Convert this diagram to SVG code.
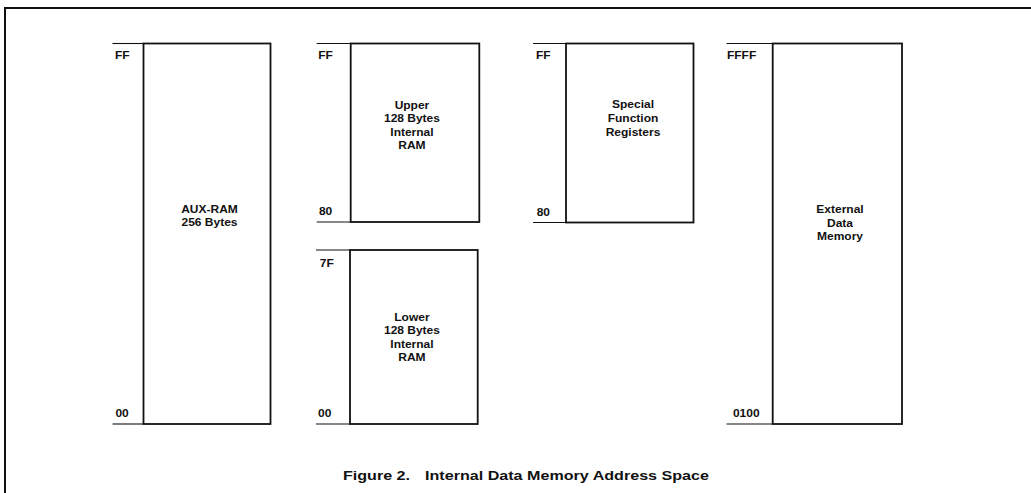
<svg xmlns="http://www.w3.org/2000/svg" width="1031" height="493" viewBox="0 0 1031 493">
<style>
  .box { fill: #ffffff; stroke: #111111; stroke-width: 1.8; }
  .tick { stroke: #111111; stroke-width: 1.1; fill: none; }
  .frame { stroke: #111111; stroke-width: 2; fill: none; }
  .t { font-family: "Liberation Sans", Arial, sans-serif; font-weight: bold; font-size: 10px; fill: #111111; }
  .c { text-anchor: middle; }
  .cap { font-family: "Liberation Sans", Arial, sans-serif; font-weight: bold; font-size: 13.2px; fill: #111111; }
</style>
<rect x="0" y="0" width="1031" height="493" fill="#ffffff"/>
<g id="frame">
  <line class="frame" x1="4" y1="8" x2="1031" y2="8"/>
  <line class="frame" x1="5" y1="7" x2="5" y2="493"/>
</g>
<g id="connectors"></g>
<g id="aux-ram">
  <line class="tick" x1="112.5" y1="43.5" x2="143.5" y2="43.5"/>
  <line class="tick" x1="112.5" y1="424" x2="143.5" y2="424"/>
  <rect class="box" x="143.5" y="43.5" width="127" height="380.5"/>
  <g transform="scale(1.2,1)">
    <text class="t" x="95.8" y="59.5">FF</text>
    <text class="t" x="96.2" y="416.7">00</text>
    <text class="t c" x="174.6" y="213.3">AUX-RAM</text>
    <text class="t c" x="174.6" y="226.3">256 Bytes</text>
  </g>
</g>
<g id="upper-ram">
  <line class="tick" x1="316.7" y1="43.5" x2="350.7" y2="43.5"/>
  <line class="tick" x1="316.7" y1="222" x2="350.7" y2="222"/>
  <rect class="box" x="350.7" y="43.5" width="128.6" height="178.5"/>
  <g transform="scale(1.2,1)">
    <text class="t" x="265.2" y="59.5">FF</text>
    <text class="t" x="265.8" y="215.5">80</text>
    <text class="t c" x="343.3" y="109">Upper</text>
    <text class="t c" x="343.3" y="122.3">128 Bytes</text>
    <text class="t c" x="343.3" y="135.8">Internal</text>
    <text class="t c" x="343.3" y="149.3">RAM</text>
  </g>
</g>
<g id="lower-ram">
  <line class="tick" x1="316" y1="250" x2="350" y2="250"/>
  <line class="tick" x1="316" y1="424" x2="350" y2="424"/>
  <rect class="box" x="350" y="250" width="127.7" height="174"/>
  <g transform="scale(1.2,1)">
    <text class="t" x="266.5" y="266.7">7F</text>
    <text class="t" x="265" y="416.7">00</text>
    <text class="t c" x="343.3" y="321">Lower</text>
    <text class="t c" x="343.3" y="334.3">128 Bytes</text>
    <text class="t c" x="343.3" y="347.7">Internal</text>
    <text class="t c" x="343.3" y="361">RAM</text>
  </g>
</g>
<g id="sfr">
  <line class="tick" x1="533" y1="43.5" x2="566" y2="43.5"/>
  <line class="tick" x1="533" y1="222.5" x2="566" y2="222.5"/>
  <rect class="box" x="566" y="43.5" width="127.5" height="179"/>
  <g transform="scale(1.2,1)">
    <text class="t" x="446.7" y="59.5">FF</text>
    <text class="t" x="447.2" y="216.5">80</text>
    <text class="t c" x="527.5" y="108.3">Special</text>
    <text class="t c" x="527.5" y="122.3">Function</text>
    <text class="t c" x="527.5" y="136">Registers</text>
  </g>
</g>
<g id="external-data-memory">
  <line class="tick" x1="726.5" y1="43.5" x2="772.7" y2="43.5"/>
  <line class="tick" x1="726.5" y1="424" x2="772.7" y2="424"/>
  <rect class="box" x="772.7" y="43.5" width="129.3" height="380.5"/>
  <g transform="scale(1.2,1)">
    <text class="t" x="605.8" y="59.5">FFFF</text>
    <text class="t" x="610.8" y="416.7">0100</text>
    <text class="t c" x="700" y="213.3">External</text>
    <text class="t c" x="700" y="226.6">Data</text>
    <text class="t c" x="700" y="240">Memory</text>
  </g>
</g>
<g id="caption" transform="scale(1.22,1)">
  <text class="cap" y="480"><tspan x="281.1">Figure 2.</tspan><tspan x="348.4">Internal Data Memory Address Space</tspan></text>
</g>
</svg>
